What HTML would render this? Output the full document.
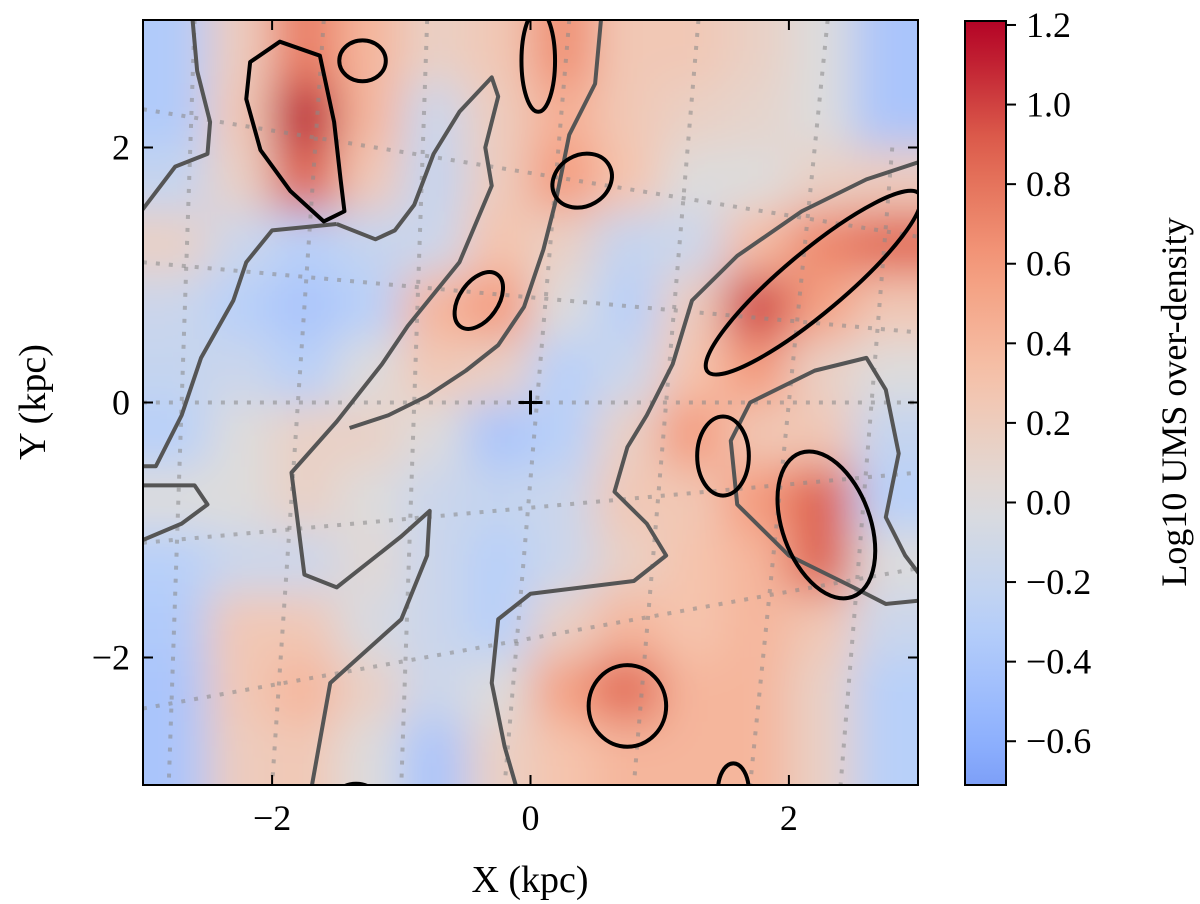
<!DOCTYPE html>
<html><head><meta charset="utf-8"><style>
html,body{margin:0;padding:0;background:#fff;}
svg{display:block;font-family:"Liberation Serif",serif;}
</style></head><body>
<svg id="chart" width="1200" height="904" viewBox="0 0 1200 904">
<defs>
<clipPath id="plotclip"><rect x="143" y="20" width="775" height="765"/></clipPath>
<filter id="smooth" x="-10%" y="-10%" width="120%" height="120%"><feGaussianBlur stdDeviation="22" edgeMode="duplicate"/></filter>
<linearGradient id="cbgrad" x1="0" y1="1" x2="0" y2="0"></linearGradient>
</defs>
<g id="plot" clip-path="url(#plotclip)">
<g id="heat" filter="url(#smooth)"></g>
<g id="grid"></g>
<g id="contours"></g>
</g>
<rect x="143" y="20" width="775" height="765" fill="none" stroke="#000" stroke-width="2"/>
<g id="axes"></g>
<text x="530" y="892" font-size="38" text-anchor="middle">X (kpc)</text>
<text x="0" y="0" font-size="38" text-anchor="middle" transform="translate(45,402) rotate(-90)">Y (kpc)</text>
<rect id="cb" x="965" y="21" width="41" height="764" fill="url(#cbgrad)" stroke="#000" stroke-width="2"/>
<g id="cbaxis"></g>
<text x="0" y="0" font-size="36" text-anchor="middle" transform="translate(1186,402) rotate(-90)">Log10 UMS over-density</text>
</svg>
<script>
const xCenters=[-2.75,-2.25,-1.75,-1.25,-0.75,-0.25,0.25,0.75,1.25,1.75,2.25,2.75];
const yCenters=[2.75,2.25,1.75,1.25,0.75,0.25,-0.25,-0.75,-1.25,-1.75,-2.25,-2.75];
const densityRows=[
[-0.35,0.2,0.75,0.4,0.15,0.25,0.65,0.25,0.25,0.15,0.0,-0.4],
[-0.35,0.25,1.15,0.4,-0.15,0.2,0.45,0.25,0.15,0.1,0.0,-0.4],
[-0.2,0.15,0.9,0.25,-0.2,0.2,0.6,0.3,0.0,0.0,0.15,0.2],
[0.15,-0.15,-0.3,-0.2,-0.15,0.3,0.15,-0.2,-0.15,0.35,0.7,0.85],
[-0.15,-0.3,-0.4,-0.3,0.4,0.6,0.0,-0.3,0.2,1.0,0.55,0.25],
[-0.2,-0.15,-0.3,0.0,0.25,0.15,-0.3,-0.15,0.3,0.6,0.15,0.0],
[-0.3,0.0,0.15,0.15,0.0,-0.4,-0.3,0.15,0.6,0.25,0.25,-0.2],
[0.0,0.0,0.15,0.0,-0.15,-0.2,-0.15,0.25,0.25,0.6,0.9,-0.3],
[-0.3,-0.15,-0.15,0.05,-0.15,-0.3,-0.15,0.15,0.3,0.4,0.9,0.0],
[-0.35,0.25,0.25,-0.05,-0.15,-0.3,0.15,0.4,0.3,0.4,0.25,-0.15],
[-0.4,0.25,0.4,0.15,-0.15,0.0,0.55,0.85,0.4,0.4,0.15,-0.3],
[-0.4,0.2,0.25,0.0,-0.4,0.15,0.3,0.4,0.4,0.4,0.15,-0.3]];
const xTicks=[-2,0,2];
const yTicks=[-2,0,2];
const cbTicks=[-0.6,-0.4,-0.2,0.0,0.2,0.4,0.6,0.8,1.0,1.2];
const cbMin=-0.71, cbMax=1.21;
const highContours=[
[-1.3,2.68,0.18,0.16,0],[0.06,2.68,0.13,0.4,0],[0.4,1.74,0.24,0.2,30],[-0.4,0.8,0.15,0.25,-35],
[2.19,0.94,1.07,0.24,40],[1.49,-0.42,0.2,0.31,0],[2.29,-0.96,0.34,0.6,20],[0.75,-2.38,0.3,0.32,0],
[1.57,-3.05,0.12,0.22,0],[-1.35,-3.05,0.12,0.06,0]];
const blobTopLeft=[[-2.17,2.67],[-1.94,2.83],[-1.63,2.72],[-1.52,2.2],[-1.47,1.75],[-1.44,1.5],[-1.6,1.42],[-1.86,1.66],[-2.09,1.98],[-2.2,2.38]];
const zeroContours=[
[[-2.62,3.05],[-2.58,2.6],[-2.48,2.2],[-2.5,1.95],[-2.75,1.85],[-3.05,1.45]],
[[-1.5,1.4],[-1.2,1.28],[-1.05,1.35],[-0.9,1.55],[-0.75,1.95],[-0.55,2.28],[-0.3,2.55],[-0.25,2.4],[-0.35,2.0],[-0.3,1.7],[-0.55,1.1],[-0.95,0.6],[-1.15,0.3],[-1.5,-0.15],[-1.85,-0.55],[-1.8,-0.95],[-1.75,-1.35],[-1.5,-1.45],[-1.0,-1.05],[-0.78,-0.85],[-0.8,-1.2],[-1.0,-1.7],[-1.55,-2.2],[-1.7,-3.05]],
[[-3.05,-0.65],[-2.6,-0.65],[-2.5,-0.8],[-2.7,-0.95],[-3.05,-1.1]],
[[-3.05,-0.5],[-2.9,-0.5],[-2.7,-0.1],[-2.55,0.35],[-2.3,0.8],[-2.2,1.1],[-2.0,1.35],[-1.5,1.4]],
[[0.55,3.05],[0.5,2.5],[0.3,2.1],[0.2,1.6],[0.1,1.2],[-0.05,0.75],[-0.25,0.45],[-0.5,0.25],[-0.8,0.05],[-1.1,-0.1],[-1.4,-0.2]],
[[3.05,1.9],[2.6,1.75],[2.1,1.5],[1.6,1.15],[1.25,0.8],[1.1,0.3],[0.9,-0.1],[0.75,-0.35],[0.65,-0.7],[0.9,-0.95],[1.05,-1.2],[0.8,-1.4],[0.4,-1.45],[0.0,-1.5],[-0.25,-1.7],[-0.3,-2.2],[-0.2,-2.7],[-0.1,-3.05]],
[[3.05,-1.55],[2.75,-1.58],[2.5,-1.45],[2.0,-1.2],[1.6,-0.8],[1.55,-0.3],[1.7,0.0],[2.2,0.25],[2.6,0.35],[2.75,0.1],[2.85,-0.4],[2.75,-0.9],[2.9,-1.2],[3.05,-1.4]]];
const gridLines=[
[[-3,0],[3,0]],[[-3,2.3],[3,1.3]],[[-3,1.1],[3,0.55]],[[-3,-1.1],[3,-0.55]],[[-3,-2.4],[3,-1.3]],
[[-2.6,3],[-2.8,-3]],[[-1.6,3],[-2.0,-3]],[[-0.8,3],[-1.0,-3]],[[0.3,3],[-0.2,-3]],[[1.3,3],[0.8,-3]],[[2.3,3],[1.7,-3]],[[2.8,2],[2.4,-3]]];

const NS='http://www.w3.org/2000/svg';
const xs=v=>530.5+v*129.2;
const ys=v=>402.5-v*127.5;
const stops=[[59,76,192],[98,130,234],[141,176,254],[184,208,249],[221,220,220],[245,196,173],[244,154,123],[222,96,77],[180,4,38]];
function cmap(v){let t=0.5+v/2.4;t=Math.max(0,Math.min(1,t));const p=t*8,i=Math.min(7,Math.floor(p)),f=p-i;
const a=stops[i],b=stops[i+1];return 'rgb('+a.map((c,k)=>Math.round(c+(b[k]-c)*f)).join(',')+')';}
function mk(tag,attrs,parent){const e=document.createElementNS(NS,tag);for(const k in attrs)e.setAttribute(k,attrs[k]);parent.appendChild(e);return e;}

const heat=document.getElementById('heat');
yCenters.forEach((yc,r)=>xCenters.forEach((xc,c)=>{
 const x0=xs(xc-0.25),x1=xs(xc+0.25),y0=ys(yc+0.25),y1=ys(yc-0.25);
 const ex=(c===0?-80:0),ex2=(c===11?80:0),ey=(r===0?-80:0),ey2=(r===11?80:0);
 const el=mk('rect',{x:x0+ex,y:y0+ey,width:x1-x0+ex2-ex+0.5,height:y1-y0+ey2-ey+0.5,fill:cmap(densityRows[r][c])},heat);
 
 
}));

const grid=document.getElementById('grid');
gridLines.forEach(l=>{const el=mk('line',{x1:xs(l[0][0]),y1:ys(l[0][1]),x2:xs(l[1][0]),y2:ys(l[1][1]),stroke:'#888','stroke-opacity':0.55,'stroke-width':4,'stroke-dasharray':'4 9'},grid);
 
 });

const cont=document.getElementById('contours');
zeroContours.forEach(pts=>{const el=mk('polyline',{points:pts.map(p=>xs(p[0])+','+ys(p[1])).join(' '),fill:'none',stroke:'#555','stroke-width':4,'stroke-linejoin':'round'},cont);
 
 });
highContours.forEach(e=>{const el=mk('ellipse',{cx:xs(e[0]),cy:ys(e[1]),rx:e[2]*129.2,ry:e[3]*127.5,transform:'rotate('+(-e[4])+' '+xs(e[0])+' '+ys(e[1])+')',fill:'none',stroke:'#000','stroke-width':4},cont);
 
 });
{const el=mk('polygon',{points:blobTopLeft.map(p=>xs(p[0])+','+ys(p[1])).join(' '),fill:'none',stroke:'#000','stroke-width':4,'stroke-linejoin':'round'},cont);
 
 }
{const g=mk('g',{},cont);
 
 
 mk('line',{x1:xs(0)-12,y1:ys(0),x2:xs(0)+12,y2:ys(0),stroke:'#000','stroke-width':3},g);
 mk('line',{x1:xs(0),y1:ys(0)-12,x2:xs(0),y2:ys(0)+12,stroke:'#000','stroke-width':3},g);}

const axes=document.getElementById('axes');
xTicks.forEach(v=>{const x=xs(v);
 mk('line',{x1:x,y1:785,x2:x,y2:775,stroke:'#000','stroke-width':2},axes);
 mk('line',{x1:x,y1:20,x2:x,y2:30,stroke:'#000','stroke-width':2},axes);
 const t=mk('text',{x:x,y:830,'font-size':36,'text-anchor':'middle'},axes);t.textContent=(v<0?'\u2212':'')+Math.abs(v);
 
 });
yTicks.forEach(v=>{const y=ys(v);
 mk('line',{x1:143,y1:y,x2:153,y2:y,stroke:'#000','stroke-width':2},axes);
 mk('line',{x1:918,y1:y,x2:908,y2:y,stroke:'#000','stroke-width':2},axes);
 const t=mk('text',{x:130,y:y+12,'font-size':36,'text-anchor':'end'},axes);t.textContent=(v<0?'\u2212':'')+Math.abs(v);
 
 });

const grad=document.getElementById('cbgrad');
for(let i=0;i<=20;i++){const v=cbMin+(cbMax-cbMin)*i/20;mk('stop',{offset:(i/20),'stop-color':cmap(v)},grad);}
const cb=document.getElementById('cbaxis');
const cy=v=>785-(v-cbMin)/(cbMax-cbMin)*764;
cbTicks.forEach(v=>{const y=cy(v);
 mk('line',{x1:1006,y1:y,x2:1016,y2:y,stroke:'#000','stroke-width':2},cb);
 const t=mk('text',{x:1026,y:y+12,'font-size':36},cb);t.textContent=(v<0?'\u2212':'')+Math.abs(v).toFixed(1);
 
 });
</script>
</body></html>
